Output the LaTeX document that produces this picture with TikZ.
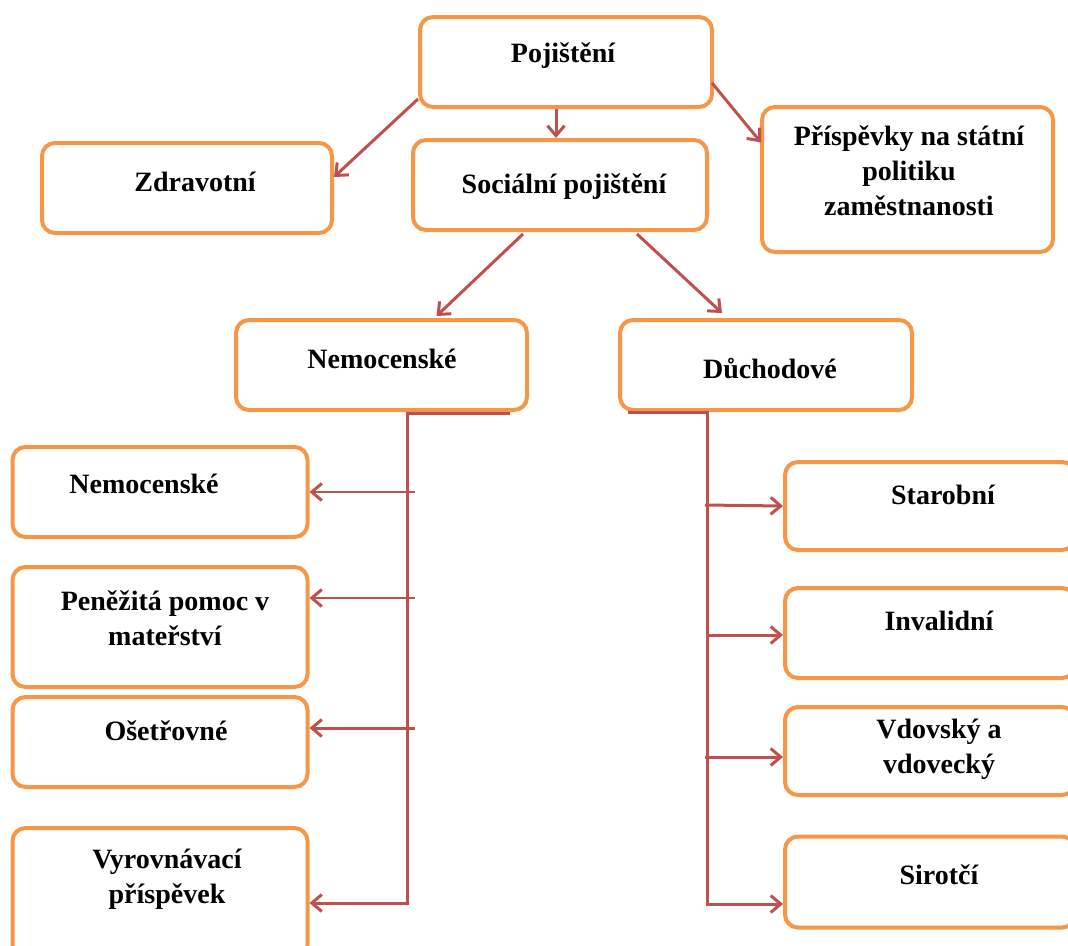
\documentclass[tikz,border=0pt]{standalone}
\usepackage{fontspec}
\setmainfont{Liberation Serif}
\usetikzlibrary{arrows.meta,calc}
\definecolor{boxorange}{HTML}{F79646}
\definecolor{linered}{HTML}{C0504D}
\begin{document}
\begin{tikzpicture}[x=1pt,y=-1pt,
  box/.style={draw=boxorange, line width=4pt, rounded corners=13pt, fill=white, inner sep=0pt},
  lbl/.style={font=\fontsize{28}{35}\selectfont\bfseries, inner sep=0pt, anchor=base, align=center},
  trunk/.style={draw=linered, line width=3pt},
  arr/.style={draw=linered, line width=3pt, -{Straight Barb[length=10pt,width=17pt]}},
  thinarr/.style={draw=linered, line width=1.5pt, -{Straight Barb[length=10pt,width=17pt,line width=3pt]}}]
\useasboundingbox (0,0) rectangle (1068,945);
% boxes
\node[box, minimum width=292pt, minimum height=90pt] (poj) at (566,62) {};
\node[box, minimum width=290pt, minimum height=90pt] (zdr) at (187,188) {};
\node[box, minimum width=294pt, minimum height=90pt] (soc) at (560,185) {};
\node[box, minimum width=291pt, minimum height=145pt] (pri) at (907.5,179.5) {};
\node[box, minimum width=291pt, minimum height=90pt] (nem) at (381.5,365) {};
\node[box, minimum width=292pt, minimum height=90pt] (duc) at (766,365) {};
\node[box, minimum width=295pt, minimum height=90pt] (l1) at (160,492) {};
\node[box, minimum width=295pt, minimum height=120pt] (l2) at (160,627) {};
\node[box, minimum width=295pt, minimum height=90pt] (l3) at (160,742) {};
\node[box, minimum width=295pt, minimum height=130pt] (l4) at (160,893) {};
\node[box, minimum width=290pt, minimum height=88pt] (r1) at (930,506) {};
\node[box, minimum width=290pt, minimum height=90pt] (r2) at (930,633) {};
\node[box, minimum width=290pt, minimum height=88pt] (r3) at (930,751) {};
\node[box, minimum width=290pt, minimum height=91pt] (r4) at (930,882) {};
% labels (multi-line labels are placed by their last baseline)
\node[lbl] (poj-t) at (563,62) {Pojištění};
\node[lbl] (zdr-t) at (195,191) {Zdravotní};
\node[lbl] (soc-t) at (564,193) {Sociální pojištění};
\node[lbl] (pri-t) at (909,215) {Příspěvky na státní\\politiku\\zaměstnanosti};
\node[lbl] (nem-t) at (382,368) {Nemocenské};
\node[lbl] (duc-t) at (770,378) {Důchodové};
\node[lbl] (l1-t) at (144,493) {Nemocenské};
\node[lbl] (l2-t) at (165,645) {Peněžitá pomoc v\\mateřství};
\node[lbl] (l3-t) at (166,740) {Ošetřovné};
\node[lbl] (l4-t) at (167,903) {Vyrovnávací\\příspěvek};
\node[lbl] (r1-t) at (943,504) {Starobní};
\node[lbl] (r2-t) at (939,630) {Invalidní};
\node[lbl] (r3-t) at (939,773) {Vdovský a\\vdovecký};
\node[lbl] (r4-t) at (939,884) {Sirotčí};
% top connectors
\draw[arr] ($(poj.south west)+(0,-10)$) -- ($(zdr.east)+(0,-11)$);
\draw[arr] ($(poj.south)+(-10,0)$) -- ($(soc.north)+(-4,0)$);
\draw[arr] ($(poj.east)+(-2,21)$) -- ($(pri.west)+(1,-37)$);
\draw[arr] ($(soc.south)+(-37,2)$) -- ($(nem.north)+(55,-2)$);
\draw[arr] ($(soc.south)+(77,2)$) -- ($(duc.north)+(-44,-5)$);
% left trunk
\coordinate (lt) at ($(nem.south)+(25.5,1)$);
\draw[arr] ($(nem.south)+(128,1)$) -- (lt) |- ($(l4.east)+(0,10)$);
\draw[thinarr] ($(lt |- l1.east)+(8,0)$) -- (l1.east);
\draw[thinarr] ($(lt |- l2.east)+(8,-29)$) -- ($(l2.east)+(0,-29)$);
\draw[arr] ($(lt |- l3.east)+(8,-14)$) -- ($(l3.east)+(0,-14)$);
% right trunk
\coordinate (rt) at ($(duc.south)+(-59,0)$);
\draw[arr] ($(duc.south)+(-138,0)$) -- (rt) |- ($(r4.west)+(0,22)$);
\draw[arr] ($(rt |- r1.west)+(-2,-1)$) -- (r1.west);
\draw[arr] ($(rt |- r2.west)+(0,2)$) -- ($(r2.west)+(0,2)$);
\draw[arr] ($(rt |- r3.west)+(-2,6)$) -- ($(r3.west)+(0,6)$);
\end{tikzpicture}
\end{document}
